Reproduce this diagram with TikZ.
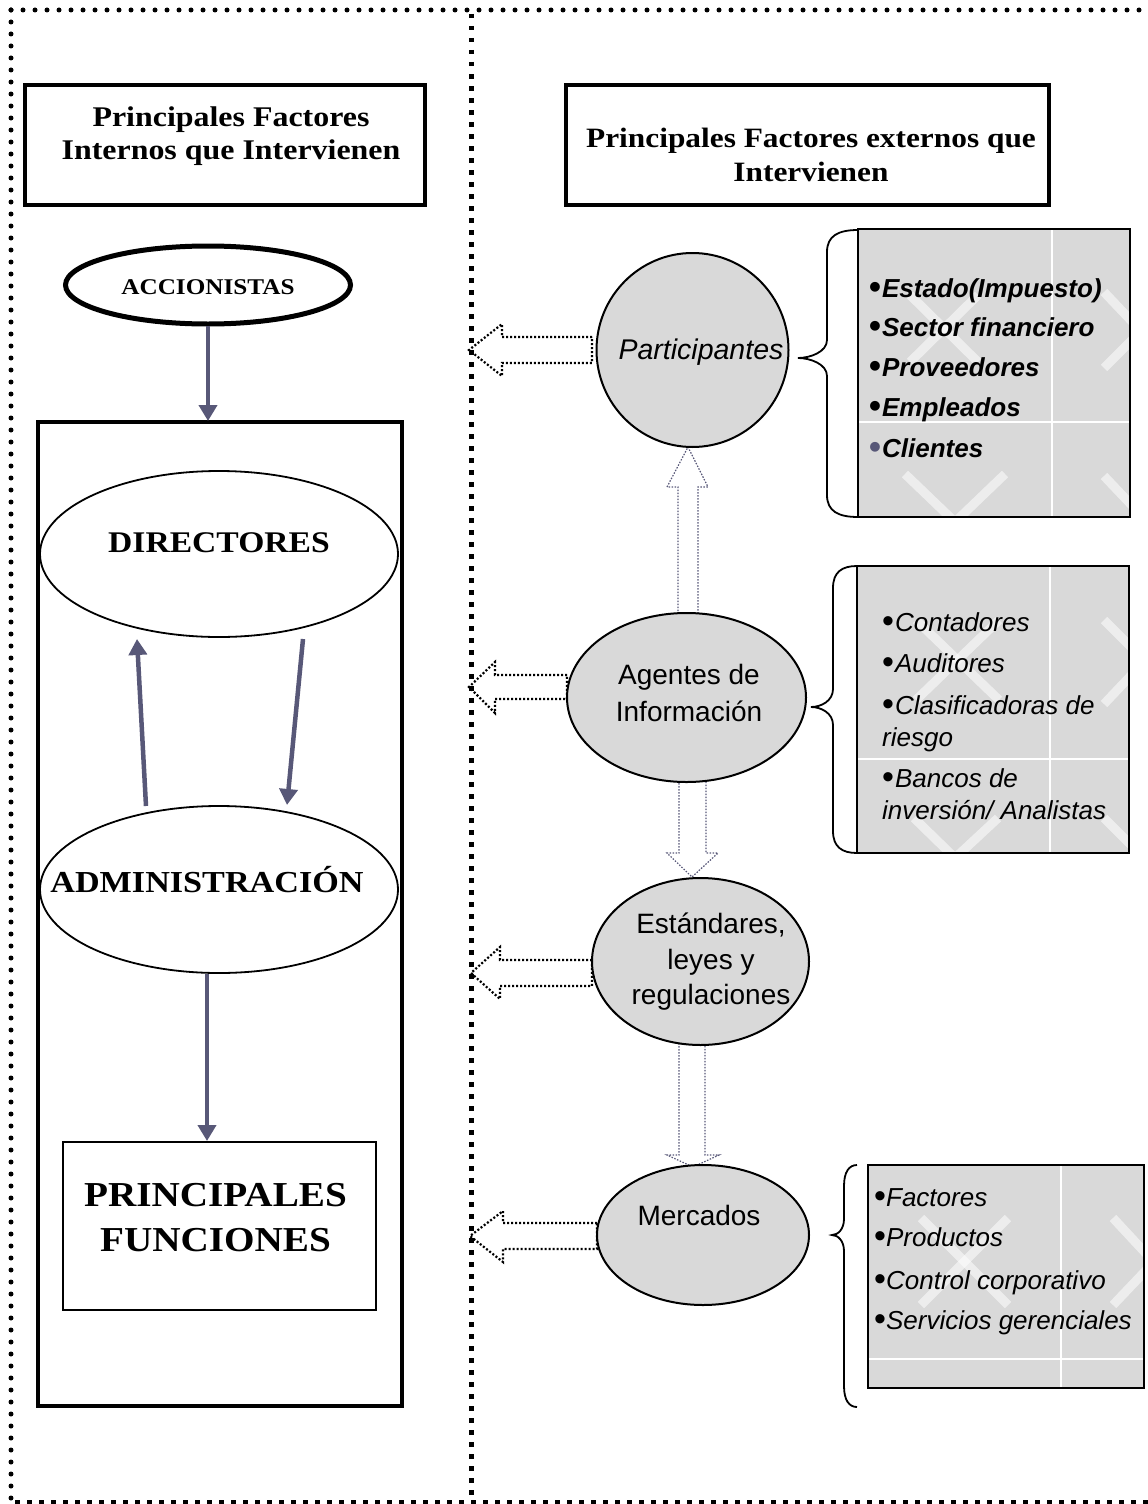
\documentclass[tikz,border=0pt]{standalone}
\usepackage{fontspec}
\setmainfont{Liberation Serif}
\newfontfamily\pal[FakeStretch=1.12]{Liberation Serif}
\newfontfamily\ar{Liberation Sans}
\usetikzlibrary{shapes.geometric,arrows.meta}
\definecolor{slate}{RGB}{88,88,120}
\definecolor{boxgrey}{RGB}{217,217,217}
\newcommand{\bul}{\raisebox{-1.5pt}{\fontsize{34}{34}\selectfont\upshape•}}
\begin{document}
\begin{tikzpicture}[x=1pt,y=-1pt,
  dotround/.style={line width=5pt, line cap=round, dash pattern=on 0pt off 12pt},
  divider/.style={line width=5pt, dash pattern=on 4.5pt off 7.5pt},
  bottomdash/.style={line width=3.5pt, dash pattern=on 5pt off 7pt},
  sertext/.style={align=center, inner sep=0pt},
  thickbox/.style={draw, line width=4pt, inner sep=0pt},
  oval/.style={ellipse, draw, inner sep=0pt},
  greycirc/.style={ellipse, draw, line width=2pt, fill=boxgrey, inner sep=0pt},
  sarrow/.style={draw=slate, line width=4.5pt, -{Triangle[width=18pt,length=16pt]}},
  hollowH/.style={draw=black, line width=2.2pt, dash pattern=on 2pt off 2pt},
  hollowV/.style={draw=slate, line width=1.2pt, dash pattern=on 1.5pt off 1.5pt},
  bracestyle/.style={draw, line width=1.8pt},
  greybox/.style={fill=boxgrey, inner sep=0pt},
  wm/.style={white, line width=9pt, opacity=0.55},
  gridw/.style={white, line width=2pt},
  item/.style={anchor=base west, inner sep=0pt},
  circtext/.style={align=center, inner sep=0pt, font=\ar\fontsize{28}{37}\selectfont}
]
\useasboundingbox (0,0) rectangle (1148,1504);

% ---------- frame ----------
\coordinate (tl) at (11,10);
\coordinate (tr) at (1148,10);
\coordinate (bl) at (11,1500);
\coordinate (bb1) at (15,1502);
\coordinate (bb2) at (1148,1502);
\coordinate (dv1) at (471,14);
\coordinate (dv2) at (471,1498);
\draw[dotround] (tl) -- (tr);
\draw[dotround] (tl) -- (bl);
\draw[bottomdash] (bb1) -- (bb2);
\draw[divider] (dv1) -- (dv2);

% ---------- left column ----------
\node[thickbox, minimum width=400pt, minimum height=120pt] (hl) at (225,145) {};
\node[sertext, font=\pal\bfseries\fontsize{28.5}{33}\selectfont] (hlt) at (231,136.5)
  {Principales Factores\\Internos que Intervienen};

\node[oval, line width=5pt, minimum width=285pt, minimum height=78pt] (acc) at (208,285) {};
\node[sertext, font=\pal\bfseries\fontsize{22.5}{26}\selectfont] (acct) at (208,287) {ACCIONISTAS};

\node[thickbox, minimum width=364pt, minimum height=984pt] (inner) at (220,914) {};

\node[oval, line width=1.8pt, minimum width=358pt, minimum height=166pt] (dir) at (219,554) {};
\node[sertext, font=\pal\bfseries\fontsize{30}{34}\selectfont] (dirt) at (219,543) {DIRECTORES};

\node[oval, line width=1.8pt, minimum width=358pt, minimum height=167pt] (adm) at (219,889.5) {};
\node[sertext, font=\pal\bfseries\fontsize{30.5}{34}\selectfont] (admt) at (207,880) {ADMINISTRACIÓN};

\node[draw, line width=2.2pt, inner sep=0pt, minimum width=313pt, minimum height=168pt] (pf) at (219.5,1226) {};
\node[sertext, font=\pal\bfseries\fontsize{35}{45}\selectfont] (pft) at (215.5,1217.5) {PRINCIPALES\\FUNCIONES};

\coordinate (accb) at (208,326);
\coordinate (innt) at (208,421);
\draw[sarrow] (accb) -- (innt);
\coordinate (upA) at (146,806);
\coordinate (upB) at (137,639);
\draw[sarrow] (upA) -- (upB);
\coordinate (dnA) at (303,639);
\coordinate (dnB) at (287,805);
\draw[sarrow] (dnA) -- (dnB);
\coordinate (admb) at (207,974);
\coordinate (pftop) at (207,1141);
\draw[sarrow] (admb) -- (pftop);

% ---------- right column ----------
\node[thickbox, minimum width=483pt, minimum height=120pt] (hr) at (807.5,145) {};
\node[sertext, font=\pal\bfseries\fontsize{28}{34}\selectfont] (hrt) at (811,155)
  {Principales Factores externos que\\Intervienen};

% hollow arrows (drawn before the circles)
\draw[hollowH] (592,337) -- (502,337) -- (502,324) -- (469,350) -- (502,376) -- (502,363) -- (592,363) -- cycle;
\draw[hollowH] (567,675) -- (495,675) -- (495,662) -- (469,687) -- (495,713) -- (495,699) -- (567,699) -- cycle;
\draw[hollowH] (592,960) -- (500,960) -- (500,947) -- (471,973) -- (500,999) -- (500,986) -- (592,986) -- cycle;
\draw[hollowH] (597,1223) -- (503,1223) -- (503,1211) -- (470,1236) -- (503,1262) -- (503,1249) -- (597,1249) -- cycle;

\draw[hollowV] (678,614) -- (678,487) -- (667,487) -- (688,447) -- (708,487) -- (698,487) -- (698,614) -- cycle;
\draw[hollowV] (679,780) -- (679,853) -- (667,853) -- (692,877) -- (718,853) -- (706,853) -- (706,780) -- cycle;
\draw[hollowV] (679,1043) -- (679,1155) -- (667,1155) -- (693,1167) -- (719,1155) -- (705,1155) -- (705,1043) -- cycle;

% circles
\node[greycirc, minimum width=192pt, minimum height=194pt] (part) at (692.5,350) {};
\node[circtext, font=\ar\itshape\fontsize{28.5}{37}\selectfont] (partt) at (701,352) {Participantes};

\node[greycirc, minimum width=239pt, minimum height=169pt] (agen) at (686.5,697.5) {};
\node[circtext] (agent) at (689,693) {Agentes de\\Información};

\node[greycirc, minimum width=217pt, minimum height=167pt] (est) at (700.5,961.5) {};
\node[circtext, font=\ar\fontsize{28}{35.5}\selectfont] (estt) at (711,962) {Estándares,\\leyes y\\regulaciones};

\node[greycirc, minimum width=212pt, minimum height=140pt] (merc) at (703,1235) {};
\node[circtext] (merct) at (699,1215) {Mercados};

% braces
\draw[bracestyle] (858,230) .. controls (838,230) and (827,236) .. (827,252) -- (827,340)
  .. controls (827,352) and (810,358) .. (798,358) .. controls (810,358) and (827,364) .. (827,376)
  -- (827,495) .. controls (827,511) and (838,517) .. (858,517);
\draw[bracestyle] (857,566) .. controls (842,566) and (833,572) .. (833,588) -- (833,689)
  .. controls (833,701) and (821,707) .. (811,707) .. controls (821,707) and (833,713) .. (833,725)
  -- (833,831) .. controls (833,847) and (842,853) .. (857,853);
\draw[bracestyle] (857,1165) .. controls (849,1165) and (844,1172) .. (844,1186) -- (844,1219)
  .. controls (844,1229) and (838,1235) .. (832,1235) .. controls (838,1235) and (844,1241) .. (844,1251)
  -- (844,1386) .. controls (844,1400) and (849,1407) .. (857,1407);

% grey box 1
\node[greybox, minimum width=272pt, minimum height=288pt] (g1) at (994,373) {};
\begin{scope}
  \clip (g1.south west) rectangle (g1.north east);
  \draw[gridw] (1052,229) -- (1052,517);
  \draw[gridw] (858,422) -- (1130,422);
  \draw[wm] (910,295) -- (978,362);
  \draw[wm] (978,295) -- (910,362);
  \draw[wm] (905,474) -- (955,522) -- (1005,474);
  \draw[wm] (1104,292) -- (1140,330);
  \draw[wm] (1140,332) -- (1104,368);
  \draw[wm] (1104,476) -- (1140,514);
\end{scope}
\draw[line width=2pt] (g1.south west) rectangle (g1.north east);
\begin{scope}[every node/.style={item, font=\ar\bfseries\itshape\fontsize{26}{31}\selectfont}]
  \node (i11) at (869,297) {\bul\hspace{1pt}Estado(Impuesto)};
  \node (i12) at (869,336) {\bul\hspace{1pt}Sector financiero};
  \node (i13) at (869,376) {\bul\hspace{1pt}Proveedores};
  \node (i14) at (869,416) {\bul\hspace{1pt}Empleados};
  \node (i15) at (869,457) {{\color{slate}\bul}\hspace{1pt}Clientes};
\end{scope}

% grey box 2
\node[greybox, minimum width=272pt, minimum height=287pt] (g2) at (993,709.5) {};
\begin{scope}
  \clip (g2.south west) rectangle (g2.north east);
  \draw[gridw] (1050,566) -- (1050,853);
  \draw[gridw] (857,759) -- (1129,759);
  \draw[wm] (916,620) -- (999,700);
  \draw[wm] (999,620) -- (916,700);
  \draw[wm] (914,818) -- (955,858) -- (998,818);
  \draw[wm] (1104,620) -- (1140,656);
  \draw[wm] (1140,666) -- (1104,704);
  \draw[wm] (1104,818) -- (1140,854);
\end{scope}
\draw[line width=2pt] (g2.south west) rectangle (g2.north east);
\begin{scope}[every node/.style={item, font=\ar\itshape\fontsize{26}{31}\selectfont}]
  \node (i21) at (882,631) {\bul\hspace{1pt}Contadores};
  \node (i22) at (882,672) {\bul\hspace{1pt}Auditores};
  \node (i23) at (882,714) {\bul\hspace{1pt}Clasificadoras de};
  \node (i24) at (882,746) {riesgo};
  \node (i25) at (882,787) {\bul\hspace{1pt}Bancos de};
  \node (i26) at (882,819) {inversión/ Analistas};
\end{scope}

% grey box 3
\node[greybox, minimum width=276pt, minimum height=223pt] (g3) at (1006,1276.5) {};
\begin{scope}
  \clip (g3.south west) rectangle (g3.north east);
  \draw[gridw] (1061,1165) -- (1061,1388);
  \draw[gridw] (868,1359) -- (1144,1359);
  \draw[wm] (921,1218) -- (1008,1305);
  \draw[wm] (1008,1218) -- (921,1305);
  \draw[wm] (1113,1218) -- (1152,1260);
  \draw[wm] (1152,1264) -- (1113,1305);
\end{scope}
\draw[line width=2pt] (g3.south west) rectangle (g3.north east);
\begin{scope}[every node/.style={item, font=\ar\itshape\fontsize{26}{31}\selectfont}]
  \node (i31) at (874,1206) {\bul Factores};
  \node (i32) at (874,1246) {\bul Productos};
  \node (i33) at (874,1289) {\bul Control corporativo};
  \node (i34) at (874,1329) {\bul Servicios gerenciales};
\end{scope}
\end{tikzpicture}
\end{document}
